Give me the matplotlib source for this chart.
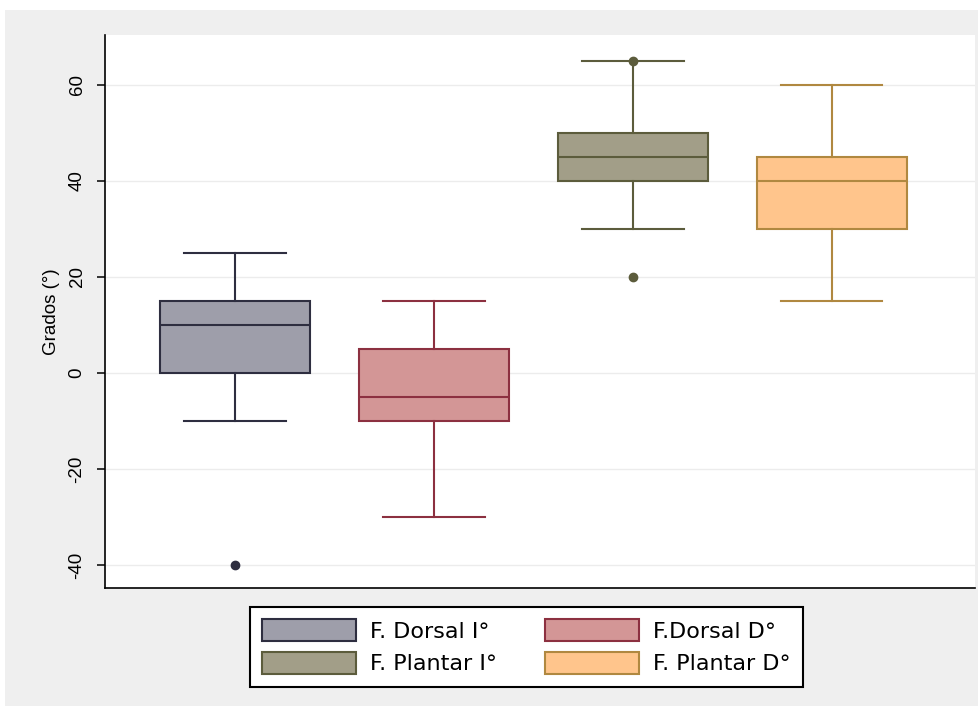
import matplotlib.pyplot as plt
from matplotlib.patches import Rectangle, Patch

plt.rcParams['font.family'] = ['Liberation Sans', 'DejaVu Sans']
plt.rcParams['axes.unicode_minus'] = False

# box stats (degrees)
labels = ['F. Dorsal I°', 'F.Dorsal D°', 'F. Plantar I°', 'F. Plantar D°']
whislo = [-10, -30, 30, 15]
q1 = [0, -10, 40, 30]
med = [10, -5, 45, 40]
q3 = [15, 5, 50, 45]
whishi = [25, 15, 65, 60]
fliers = [[-40], [], [65, 20], []]

fills = ['#9e9eaa', '#d39696', '#a29e88', '#ffc58c']
edges = ['#2e2e40', '#8c3040', '#5c5c3c', '#b08840']

stats = []
for i in range(4):
    stats.append(dict(label=labels[i], whislo=whislo[i], q1=q1[i], med=med[i],
                      q3=q3[i], whishi=whishi[i], fliers=fliers[i]))

fig = plt.figure(figsize=(9.79, 7.06), dpi=100)
fig.patch.set_facecolor('white')
fig.patches.append(Rectangle((5 / 979, 0), 1, 696 / 706, transform=fig.transFigure,
                             facecolor='#efefef', edgecolor='none', zorder=-10))

ax = fig.add_axes([105 / 979, 118 / 706, 870 / 979, 553 / 706])
ax.set_facecolor('white')

pos = [1, 2, 3, 4]
for i in range(4):
    ax.bxp([stats[i]], positions=[pos[i]], widths=0.754, patch_artist=True,
           showfliers=True, manage_ticks=False,
           boxprops=dict(facecolor=fills[i], edgecolor=edges[i], linewidth=1.5),
           medianprops=dict(color=edges[i], linewidth=1.5),
           whiskerprops=dict(color=edges[i], linewidth=1.5),
           capprops=dict(color=edges[i], linewidth=1.5),
           capwidths=0.51,
           flierprops=dict(marker='o', markerfacecolor=edges[i], markeredgecolor=edges[i],
                           markersize=6))

ax.set_xlim(0.347, 4.72)
ax.set_ylim(-44.8, 70.4)
ax.set_yticks([-40, -20, 0, 20, 40, 60])
ax.set_xticks([])
ax.yaxis.grid(True, color='#ececec', linewidth=1)
ax.set_axisbelow(True)
for s in ['top', 'right']:
    ax.spines[s].set_visible(False)
ax.spines['left'].set_linewidth(1.2)
ax.spines['bottom'].set_linewidth(1.2)
ax.tick_params(axis='y', direction='out', length=6, width=1.1, pad=8, labelsize=13.5)
for t in ax.get_yticklabels():
    t.set_rotation(90)
    t.set_va('center')
    t.set_family('Liberation Sans')
ax.set_ylabel('Grados (°)', fontsize=13.5, labelpad=6, family='Liberation Sans')

handles = [Patch(facecolor=fills[i], edgecolor=edges[i], linewidth=1.5) for i in range(4)]
order = [0, 2, 1, 3]
leg = fig.legend([handles[i] for i in order], [labels[i] for i in order], ncol=2,
                 loc='upper left', bbox_to_anchor=(250 / 979, 1 - 607 / 706),
                 fancybox=False, edgecolor='black', framealpha=1,
                 prop=dict(family='DejaVu Sans', size=16),
                 handlelength=4.2, handleheight=1.15, handletextpad=0.63,
                 columnspacing=2.2, borderpad=0.55, borderaxespad=0, labelspacing=0.45)
leg.get_frame().set_linewidth(1.5)

fig.savefig('out.png', dpi=100)
